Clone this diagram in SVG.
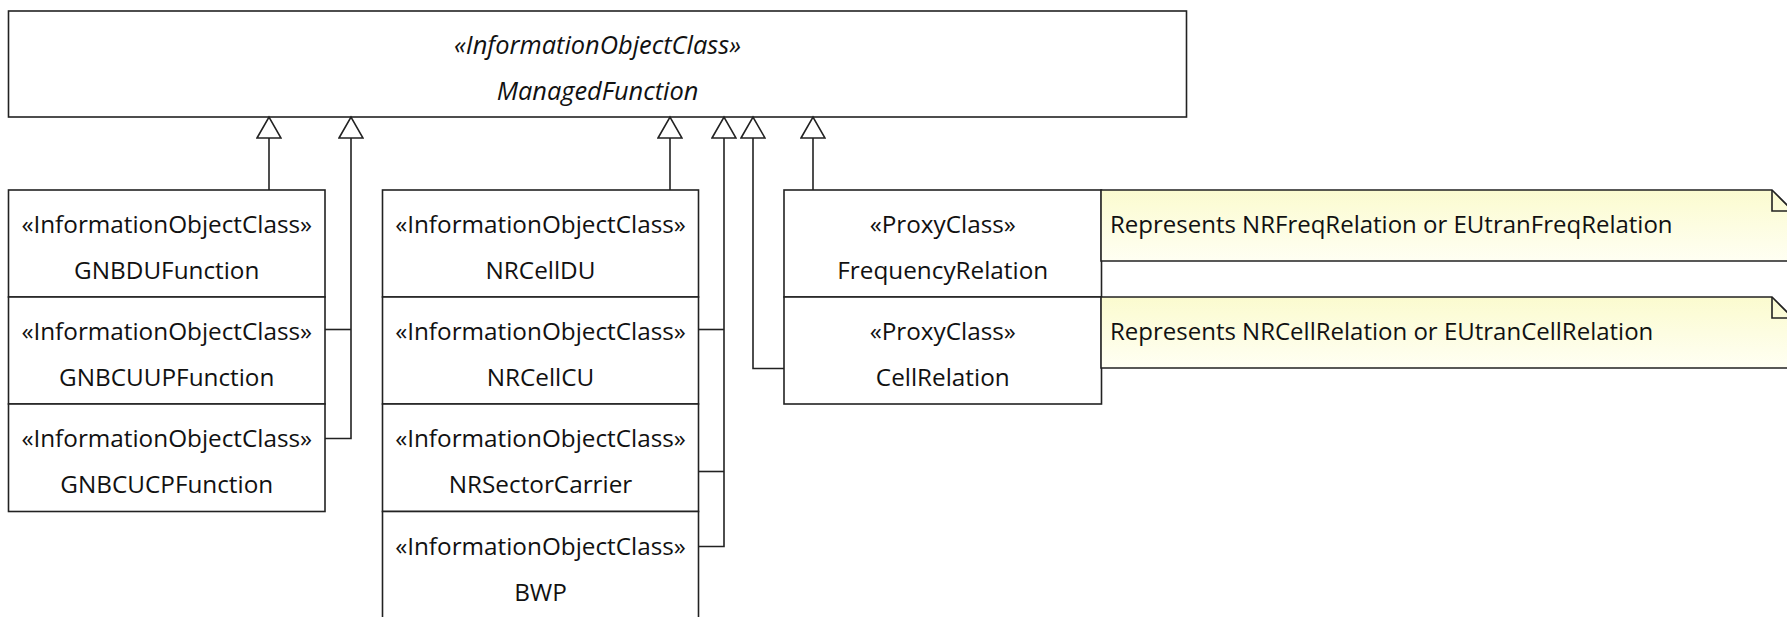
<svg xmlns="http://www.w3.org/2000/svg" width="1787" height="617" viewBox="0 0 1787 617">
<style>
.box{fill:#fff;stroke:#222;stroke-width:1.6}
.note{fill:url(#ng);stroke:#222;stroke-width:1.6}
.t{font-family:"Open Sans","Noto Sans",sans-serif;font-size:24.3px;fill:#111;text-anchor:middle}
.it{font-style:italic;font-size:25.4px}
.nt{font-family:"Open Sans","Noto Sans",sans-serif;font-size:24px;fill:#111}
.c{fill:none;stroke:#222;stroke-width:1.6}
</style>
<defs>
<linearGradient id="ng" x1="0" y1="0" x2="0" y2="1">
<stop offset="0" stop-color="#FBFBCF"/>
<stop offset="1" stop-color="#FFFFF3"/>
</linearGradient>
<marker id="gen" viewBox="0 0 24 26" refX="22" refY="13" markerWidth="24" markerHeight="26" markerUnits="userSpaceOnUse" orient="auto">
<path d="M1,1 L22,13 L1,25 Z" fill="#fff" stroke="#222" stroke-width="1.6"/>
</marker>
</defs>

<g id="ManagedFunction">
<rect class="box" x="8.5" y="11" width="1178" height="106"/>
<text class="t it" x="597.5" y="54">«InformationObjectClass»</text>
<text class="t it" x="597.5" y="100">ManagedFunction</text>
</g>

<g id="GNBDUFunction">
<rect class="box" x="8.5" y="190" width="316.5" height="107"/>
<text class="t" x="166.75" y="233">«InformationObjectClass»</text>
<text class="t" x="166.75" y="279">GNBDUFunction</text>
</g>
<g id="GNBCUUPFunction">
<rect class="box" x="8.5" y="297" width="316.5" height="107"/>
<text class="t" x="166.75" y="340">«InformationObjectClass»</text>
<text class="t" x="166.75" y="386">GNBCUUPFunction</text>
</g>
<g id="GNBCUCPFunction">
<rect class="box" x="8.5" y="404" width="316.5" height="107.5"/>
<text class="t" x="166.75" y="447">«InformationObjectClass»</text>
<text class="t" x="166.75" y="493">GNBCUCPFunction</text>
</g>

<g id="NRCellDU">
<rect class="box" x="382.5" y="190" width="316" height="107"/>
<text class="t" x="540.5" y="233">«InformationObjectClass»</text>
<text class="t" x="540.5" y="279">NRCellDU</text>
</g>
<g id="NRCellCU">
<rect class="box" x="382.5" y="297" width="316" height="107"/>
<text class="t" x="540.5" y="340">«InformationObjectClass»</text>
<text class="t" x="540.5" y="386">NRCellCU</text>
</g>
<g id="NRSectorCarrier">
<rect class="box" x="382.5" y="404" width="316" height="107.5"/>
<text class="t" x="540.5" y="447">«InformationObjectClass»</text>
<text class="t" x="540.5" y="493">NRSectorCarrier</text>
</g>
<g id="BWP">
<rect class="box" x="382.5" y="511.5" width="316" height="112"/>
<text class="t" x="540.5" y="555">«InformationObjectClass»</text>
<text class="t" x="540.5" y="601">BWP</text>
</g>

<g id="FrequencyRelation">
<rect class="box" x="784" y="190" width="317.5" height="107"/>
<text class="t" x="942.75" y="233">«ProxyClass»</text>
<text class="t" x="942.75" y="279">FrequencyRelation</text>
</g>
<g id="CellRelation">
<rect class="box" x="784" y="297" width="317.5" height="107"/>
<text class="t" x="942.75" y="340">«ProxyClass»</text>
<text class="t" x="942.75" y="386">CellRelation</text>
</g>

<g id="NoteFreq">
<path class="note" d="M1101,190 H1772 L1793,211 V261 H1101 Z"/>
<path class="c" d="M1772,190 V211 H1793"/>
<text class="nt" x="1110" y="233">Represents NRFreqRelation or EUtranFreqRelation</text>
</g>
<g id="NoteCell">
<path class="note" d="M1101,297 H1772 L1793,318 V368 H1101 Z"/>
<path class="c" d="M1772,297 V318 H1793"/>
<text class="nt" x="1110" y="340">Represents NRCellRelation or EUtranCellRelation</text>
</g>

<g id="connectors">
<path class="c" d="M269,190 V117" marker-end="url(#gen)"/>
<path class="c" d="M325,438.5 H351 V117" marker-end="url(#gen)"/>
<path class="c" d="M325,329.5 H351"/>
<path class="c" d="M670,190 V117" marker-end="url(#gen)"/>
<path class="c" d="M698.5,546.5 H724 V117" marker-end="url(#gen)"/>
<path class="c" d="M698.5,329.5 H724"/>
<path class="c" d="M698.5,471.5 H724"/>
<path class="c" d="M784,368.5 H753 V117" marker-end="url(#gen)"/>
<path class="c" d="M813,190 V117" marker-end="url(#gen)"/>
</g>
</svg>
